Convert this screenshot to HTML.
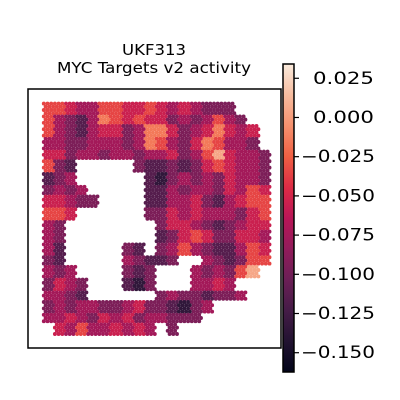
<!DOCTYPE html>
<html><head><meta charset="utf-8"><style>
html,body{margin:0;padding:0;background:#fff;}
svg{display:block;font-family:"DejaVu Sans","Liberation Sans",sans-serif;}
</style></head><body>
<svg id="chart" width="400" height="400" viewBox="0 0 400 400">
<defs>
<linearGradient id="rocket" x1="0" y1="1" x2="0" y2="0">
<stop offset="0" stop-color="#03051a"/><stop offset="0.1" stop-color="#221331"/><stop offset="0.2" stop-color="#451c47"/><stop offset="0.3" stop-color="#6b1f56"/><stop offset="0.4" stop-color="#921c5b"/><stop offset="0.5" stop-color="#b91657"/><stop offset="0.6" stop-color="#dd2c45"/><stop offset="0.7" stop-color="#f06043"/><stop offset="0.8" stop-color="#f5916e"/><stop offset="0.9" stop-color="#f6bc9f"/><stop offset="1" stop-color="#faebdd"/>
</linearGradient>
</defs>
<text x="122" y="55" font-size="15" textLength="64" lengthAdjust="spacingAndGlyphs">UKF313</text>
<text x="57" y="73" font-size="15" textLength="194" lengthAdjust="spacingAndGlyphs">MYC Targets v2 activity</text>
<g id="spots"></g>
<rect x="28" y="89" width="253" height="259" fill="none" stroke="#000" stroke-width="1.5"/>
<rect x="283" y="64" width="11" height="308" fill="url(#rocket)" stroke="#000" stroke-width="1.5"/>
<g id="cbticks"></g>
</svg>
<script>
const tickValues = [0.025, 0.000, -0.025, -0.050, -0.075, -0.100, -0.125, -0.150];
const tickLabels = ["0.025", "0.000", "\u22120.025", "\u22120.050", "\u22120.075", "\u22120.100", "\u22120.125", "\u22120.150"];
const colorMin = -0.1623, colorMax = 0.0341;
// activity level grid (level digit -> activity = -0.155 + level*0.02), '.' = no spot
const activityGrid = [
"66544665565454333...",
"643247656553434643..",
"6432455347753457545.",
"4433444347643576443.",
"55344344344534685443",
"632.....322323565443",
"234......21343435443",
"3434.....22434435465",
"55433....22445324566",
"665......33545444356",
"43........3554323455",
"43........2356533554",
"42.....32.3464322465",
"32.....43223..432366",
"434....323...434368.",
"3543...213...4454...",
"4432......34332334...",
"343443345332134.....",
"44543545344333......",
".546445454 3........"
];
const xMin=42, xMax=270, yMin=102, yMax=336;
const cols=20, rows=20;
function levelToValue(l){return -0.155 + l*0.02;}
const stops=[[3,5,26],[34,19,49],[69,28,71],[107,31,86],[146,28,91],[185,22,87],[221,44,69],[240,96,67],[245,145,110],[246,188,159],[250,235,221]];
function color(v){
  let t=(v-colorMin)/(colorMax-colorMin); t=Math.max(0,Math.min(1,t));
  const p=t*10, i=Math.min(9,Math.floor(p)), f=p-i;
  const a=stops[i], b=stops[i+1];
  return `rgb(${Math.round(a[0]+(b[0]-a[0])*f)},${Math.round(a[1]+(b[1]-a[1])*f)},${Math.round(a[2]+(b[2]-a[2])*f)})`;
}
function yScale(v){return 372-(v-colorMin)/(colorMax-colorMin)*308;}
const NS="http://www.w3.org/2000/svg";
const spots=document.getElementById('spots');
const cw=(xMax-xMin)/cols, ch=(yMax-yMin)/rows;
const dx=3.7, dy=3.2;
let r=0;
for(let y=yMin+1.6;y<yMax;y+=dy,r++){
  for(let x=xMin+1.8+(r%2)*dx/2;x<xMax;x+=dx){
    const c=Math.floor((x-xMin)/cw), rr=Math.floor((y-yMin)/ch);
    const ch_=(activityGrid[rr]||"")[c];
    if(!ch_||ch_==='.'||ch_===' ')continue;
    const v=levelToValue(parseInt(ch_,10));
    const el=document.createElementNS(NS,'circle');
    el.setAttribute('cx',x.toFixed(1));el.setAttribute('cy',y.toFixed(1));el.setAttribute('r','1.95');
    el.setAttribute('fill',color(v));
    
    
    spots.appendChild(el);
  }
}
const tg=document.getElementById('cbticks');
tickValues.forEach((v,i)=>{
  const y=yScale(v);
  const l=document.createElementNS(NS,'line');
  l.setAttribute('x1','294');l.setAttribute('x2','299');l.setAttribute('y1',y);l.setAttribute('y2',y);
  l.setAttribute('stroke','#000');l.setAttribute('stroke-width','1.2');
  
  
  tg.appendChild(l);
  const neg = tickLabels[i][0]==='\u2212';
  const t=document.createElementNS(NS,'text');
  t.setAttribute('x', neg ? '301' : '313');
  t.setAttribute('y',y+5.5);t.setAttribute('font-size','16.5');
  t.setAttribute('textLength', neg ? '74' : '61');
  t.setAttribute('lengthAdjust','spacingAndGlyphs');
  t.textContent=tickLabels[i];
  
  
  tg.appendChild(t);
});
</script>
</body></html>
